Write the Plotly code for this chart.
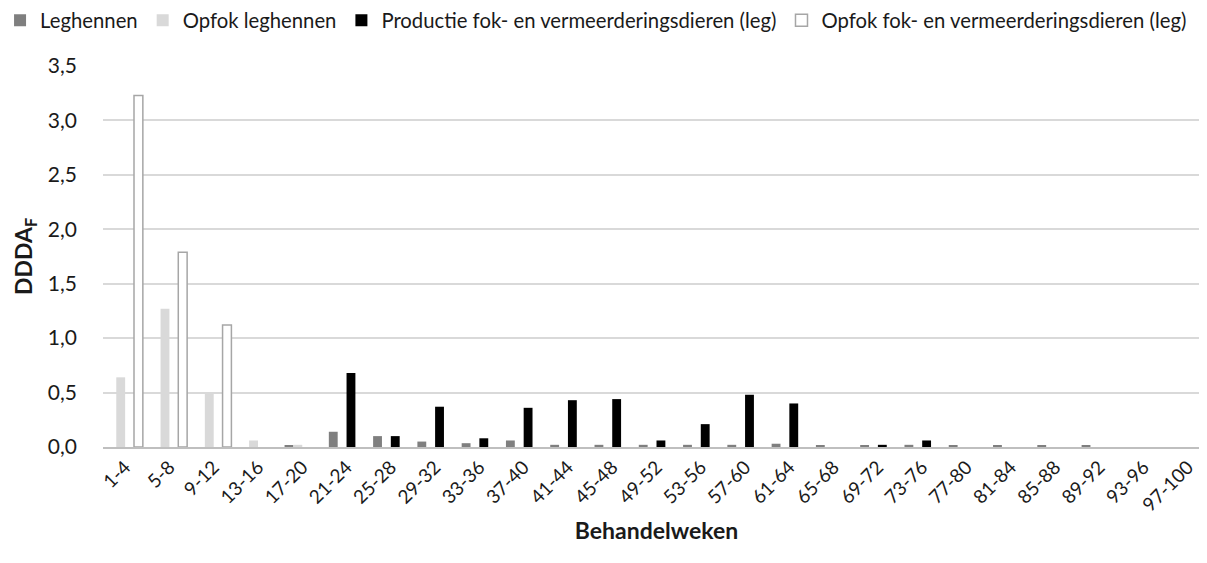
import plotly.graph_objects as go

categories = ["1-4", "5-8", "9-12", "13-16", "17-20", "21-24", "25-28", "29-32", "33-36",
              "37-40", "41-44", "45-48", "49-52", "53-56", "57-60", "61-64", "65-68",
              "69-72", "73-76", "77-80", "81-84", "85-88", "89-92", "93-96", "97-100"]

leghennen = [0, 0, 0, 0, 0.01, 0.14, 0.10, 0.05, 0.035, 0.06, 0.02, 0.02, 0.02, 0.02,
             0.02, 0.03, 0.01, 0.01, 0.02, 0.01, 0.01, 0.01, 0.01, 0, 0]
opfok_leghennen = [0.64, 1.27, 0.50, 0.06, 0.02, 0, 0, 0, 0, 0, 0, 0, 0, 0, 0, 0, 0,
                   0, 0, 0, 0, 0, 0, 0, 0]
productie_fok = [0, 0, 0, 0, 0, 0.68, 0.10, 0.37, 0.08, 0.36, 0.43, 0.44, 0.06, 0.21,
                 0.48, 0.40, 0, 0.02, 0.06, 0, 0, 0, 0, 0, 0]
opfok_fok = [3.23, 1.79, 1.12, 0, 0, 0, 0, 0, 0, 0, 0, 0, 0, 0, 0, 0, 0, 0, 0, 0, 0,
             0, 0, 0, 0]


def nz(vals):
    return [v if v else None for v in vals]


FONT = "Lato"
TXT = "#1a1a1a"

fig = go.Figure()
fig.add_trace(go.Bar(name="Leghennen", x=categories, y=nz(leghennen),
                     marker=dict(color="#7f7f7f", line=dict(width=0))))
fig.add_trace(go.Bar(name="Opfok leghennen", x=categories, y=nz(opfok_leghennen),
                     marker=dict(color="#d9d9d9", line=dict(width=0))))
fig.add_trace(go.Bar(name="Productie fok- en vermeerderingsdieren (leg)", x=categories,
                     y=nz(productie_fok), marker=dict(color="#000000", line=dict(width=0))))
fig.add_trace(go.Bar(name="Opfok fok- en vermeerderingsdieren (leg)", x=categories,
                     y=nz(opfok_fok),
                     marker=dict(color="#ffffff", line=dict(color="#a6a6a6", width=1.5))))

fig.update_layout(
    width=1207, height=563,
    paper_bgcolor="white", plot_bgcolor="white",
    separators=",.",
    barmode="group", bargap=0.2, bargroupgap=0,
    margin=dict(l=95, r=5, t=58, b=124, autoexpand=False),
    font=dict(family=FONT, size=19, color=TXT),
    legend=dict(orientation="h", xref="paper", x=-0.093, xanchor="left",
                y=1.172, yanchor="top", yref="paper",
                font=dict(family=FONT, size=20.3, color=TXT),
                itemwidth=30, tracegroupgap=0, traceorder="normal"),
    xaxis=dict(showgrid=False, tickangle=-45, ticks="", showline=True, automargin=False,
               linecolor="#bfbfbf", linewidth=1.5,
               tickfont=dict(family=FONT, size=19, color=TXT),
               title=dict(text="<b>Behandelweken</b>", standoff=8,
                          font=dict(family=FONT, size=23, color=TXT))),
    yaxis=dict(range=[0, 3.5], dtick=0.5, tickformat=".1f", showgrid=True, automargin=False,
               gridcolor="#d9d9d9", gridwidth=1.5, zeroline=False, showline=False,
               ticks="", ticklabelstandoff=25,
               tickfont=dict(family=FONT, size=21, color=TXT),
               title=dict(text="<b>DDDA<sub>F</sub></b>", standoff=8,
                          font=dict(family=FONT, size=23, color=TXT))),
)

fig.write_html("out.html")
